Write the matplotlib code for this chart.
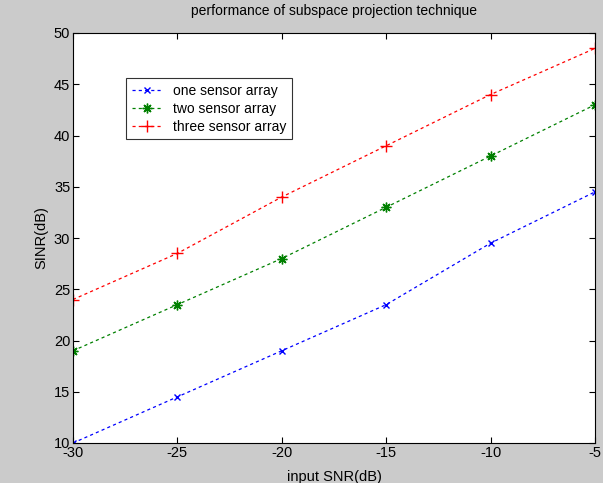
import matplotlib.pyplot as plt

snr_in = [-30, -25, -20, -15, -10, -5]
one_sensor = [10, 14.5, 19, 23.5, 29.5, 34.5]
two_sensor = [19, 23.5, 28, 33, 38, 43]
three_sensor = [24, 28.5, 34, 39, 44, 48.5]

plt.rcParams['font.family'] = ['Liberation Sans', 'DejaVu Sans']
plt.rcParams['axes.unicode_minus'] = False

fig = plt.figure(figsize=(6.03, 4.83), dpi=100, facecolor='#cbcbcb')

L, R, T, B = 73, 595, 33, 443
ax = fig.add_axes([L / 603, 1 - B / 483, (R - L) / 603, (B - T) / 483])

dash = (0, (2.5, 2.5))
ax.plot(snr_in, one_sensor, color='blue', linestyle=dash, marker='x', markersize=5,
        linewidth=0.9, label='one sensor array')
ax.plot(snr_in, two_sensor, color='#008000', linestyle=dash, marker=(8, 2, 0),
        markersize=7, linewidth=0.9, label='two sensor array')
ax.plot(snr_in, three_sensor, color='red', linestyle=dash, marker='+', markersize=8,
        linewidth=0.9, label='three sensor array')

ax.set_xlim(-30, -5)
ax.set_ylim(10, 50)
ax.set_xticks(snr_in)
ax.set_yticks(range(10, 51, 5))
ax.tick_params(direction='in', length=4, labelsize=10.5, top=True, right=True,
               labeltop=False, labelright=False, pad=2)
for s in ax.spines.values():
    s.set_linewidth(0.8)

ax.set_title('performance of subspace projection technique', fontsize=10, pad=13)
ax.set_xlabel('input SNR(dB)', fontsize=10.5, labelpad=7)
ax.set_ylabel('SINR(dB)', fontsize=10.5)

leg = ax.legend(loc='upper left',
                bbox_to_anchor=((126 - L) / (R - L), (B - 78) / (B - T)),
                fancybox=False, edgecolor='black', fontsize=10, borderaxespad=0,
                handlelength=2.2, labelspacing=0.3)
leg.get_frame().set_linewidth(0.8)

fig.savefig('out.png', dpi=100, facecolor=fig.get_facecolor())
